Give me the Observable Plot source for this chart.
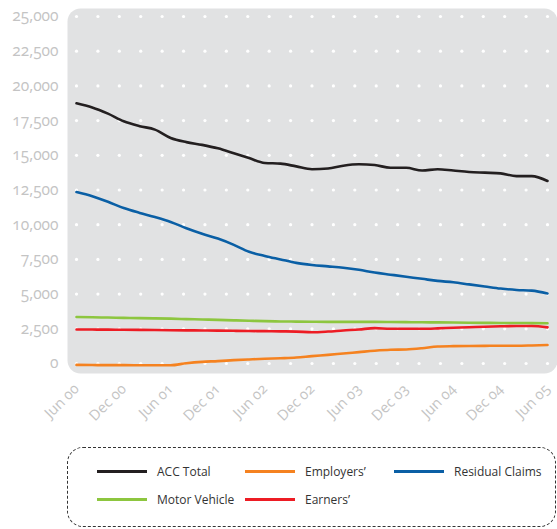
<!DOCTYPE html>
<html>
<head>
<meta charset="utf-8">
<script src="https://cdn.jsdelivr.net/npm/d3@7"></script>
<script src="https://cdn.jsdelivr.net/npm/@observablehq/plot@0.6"></script>
<style>
  html, body { margin: 0; padding: 0; background: #fff; }
  #wrap { position: relative; width: 557px; height: 529px; font-family: "Open Sans", Lato, sans-serif; }
  #chart svg text { font-variant-numeric: oldstyle-nums; font-feature-settings: "onum" 1; }
  #legend { position: absolute; left: 67px; top: 447px; width: 489px; height: 80px; border: 1px dashed #333; border-radius: 16px; box-sizing: border-box; }
  .item { position: absolute; display: flex; align-items: center; font-size: 12px; color: #333; }
  .sw { width: 50px; height: 3px; margin-right: 10px; }
</style>
</head>
<body>
<div id="wrap">
  <div id="chart"></div>
  <div id="legend"></div>
</div>
<script>
const dates = ["2000-06","2000-08","2000-10","2000-12","2001-02","2001-04","2001-06","2001-08","2001-10","2001-12",
  "2002-02","2002-04","2002-06","2002-08","2002-10","2002-12","2003-02","2003-04","2003-06","2003-08","2003-10","2003-12",
  "2004-02","2004-04","2004-06","2004-08","2004-10","2004-12","2005-02","2005-04","2005-06"];
const accTotal = [18750,18450,18000,17450,17100,16850,16250,15950,15750,15500,15150,14800,14450,14400,14200,14000,
  14050,14250,14350,14300,14100,14100,13900,14000,13900,13800,13750,13700,13500,13500,13150];
const residualClaims = [12350,12050,11650,11200,10850,10550,10200,9750,9350,9000,8550,8050,7750,7500,7250,7100,
  7000,6900,6750,6550,6400,6250,6100,5950,5850,5700,5550,5400,5300,5250,5050];
const motorVehicle = [3350,3330,3310,3290,3270,3250,3230,3200,3170,3140,3110,3080,3050,3030,3020,3010,
  3000,3000,3000,3000,2990,2980,2970,2960,2950,2940,2930,2920,2920,2910,2900];
const earners = [2450,2445,2440,2430,2420,2410,2400,2390,2380,2370,2355,2340,2330,2315,2300,2250,
  2300,2380,2450,2550,2500,2500,2500,2530,2580,2610,2650,2680,2700,2700,2600];
const employers = [-100,-110,-120,-120,-125,-130,-130,20,120,170,240,290,340,380,430,530,
  620,720,820,920,990,1010,1100,1230,1250,1260,1270,1280,1280,1300,1330];
const seriesNames = ["ACC Total","Employers'","Residual Claims","Motor Vehicle","Earners'"];
const seriesColors = ["#231f20","#f58220","#0a5fa5","#8dc63f","#ed1c24"];
const legendLabels = ["ACC Total","Employers’","Residual Claims","Motor Vehicle","Earners’"];
const yTicks = [0,2500,5000,7500,10000,12500,15000,17500,20000,22500,25000];
const xTicks = ["2000-06","2000-12","2001-06","2001-12","2002-06","2002-12","2003-06","2003-12","2004-06","2004-12","2005-06"];

const parse = d3.utcParse("%Y-%m");
const seriesValues = [accTotal, employers, residualClaims, motorVehicle, earners];
const rows = [];
seriesNames.forEach((s, i) => seriesValues[i].forEach((v, j) => rows.push({series: s, date: parse(dates[j]), value: v})));

// decorative dot grid: 23 columns across the x span, one row per y tick
const x0 = parse(dates[0]), x1 = parse(dates[dates.length - 1]);
const dots = [];
for (let k = 0; k <= 22; k++) {
  const t = new Date(+x0 + (x1 - x0) * k / 22);
  for (const y of yTicks) dots.push({date: t, value: y});
}

const fmtMonth = d3.utcFormat("%b %y");
const chart = Plot.plot({
  width: 557,
  height: 440,
  marginLeft: 76,
  marginRight: 10,
  marginTop: 16,
  marginBottom: 77,
  style: {fontFamily: "'Open Sans', Lato, sans-serif", fontSize: "14px", color: "#c4c4c4", background: "transparent"},
  x: {type: "utc", domain: [x0, x1]},
  y: {domain: [0, 25000]},
  color: {domain: seriesNames, range: seriesColors},
  marks: [
    Plot.frame({fill: "#e1e2e3", stroke: null, rx: 13, insetLeft: -9, insetRight: -10, insetTop: -8, insetBottom: -10}),
    Plot.dot(dots, {x: "date", y: "value", r: 1.6, fill: "#fff", stroke: null}),
    Plot.line(rows, {x: "date", y: "value", z: "series", stroke: "series", strokeWidth: 2.6, curve: "monotone-x"}),
    Plot.axisY({ticks: yTicks, tickSize: 0, tickPadding: 18, tickFormat: d3.format(","), label: null, fill: "#c4c4c4", fontSize: 15.5}),
    Plot.axisX({ticks: xTicks.map(parse), tickSize: 0, tickPadding: 23, tickRotate: -45, tickFormat: fmtMonth, label: null, fill: "#c4c4c4", fontSize: 14.5})
  ]
});
document.getElementById("chart").appendChild(chart);

const legend = document.getElementById("legend");
const pos = [[29, 24], [177, 24], [326, 24], [29, 52], [177, 52]];
legendLabels.forEach((name, i) => {
  const it = document.createElement("div");
  it.className = "item";
  it.style.left = pos[i][0] + "px";
  it.style.top = (pos[i][1] - 9) + "px";
  it.innerHTML = `<span class="sw" style="background:${seriesColors[i]}"></span><span>${name}</span>`;
  legend.appendChild(it);
});
</script>
</body>
</html>
